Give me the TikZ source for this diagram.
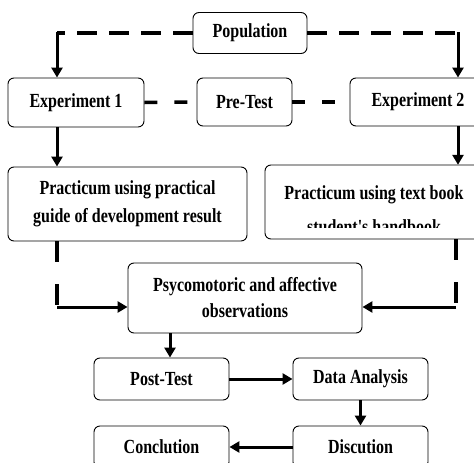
\documentclass[tikz,border=0pt]{standalone}
\usepackage{fontspec}
\setmainfont{Liberation Serif}
\newfontfamily\boxfont[FakeStretch=0.8]{Liberation Serif}
\usetikzlibrary{arrows.meta}
\begin{document}
\begin{tikzpicture}[x=1pt,y=-1pt,
  box/.style={draw, rounded corners=6pt, line width=0.9pt, inner sep=0pt, align=center,
    font=\boxfont\fontsize{20}{26}\selectfont\bfseries},
  solidarrow/.style={line width=3pt, -{Triangle[length=10pt,width=11pt]}},
  dashtop/.style={line width=4pt, dash pattern=on 20pt off 12pt},
  dashmid/.style={line width=3.5pt, dash pattern=on 13pt off 17pt},
  dashvert/.style={line width=3.5pt, dash pattern=on 21pt off 22pt}]
\useasboundingbox (0,0) rectangle (474,463);
\clip (0,0) rectangle (474,463);
% nodes
\node[box, minimum width=114pt, minimum height=41pt] (pop) at (250,33) {Population};
\node[box, minimum width=136pt, minimum height=49pt] (exp1) at (76,102.5) {Experiment 1};
\node[box, minimum width=95pt, minimum height=48pt] (pre) at (244.5,102) {Pre-Test};
\node[box, minimum width=136pt, minimum height=48pt] (exp2) at (418,102) {Experiment 2};
\node[box, minimum width=239pt, minimum height=74pt, font=\boxfont\fontsize{20}{28}\selectfont\bfseries] (prac1) at (127.5,204) {Practicum using practical\\guide of development result};
\draw[line width=0.9pt, rounded corners=6pt] (265,165) rectangle (483,239);
\node[inner sep=0pt, minimum width=218pt, minimum height=74pt] (prac2) at (374,202) {};
\begin{scope}
\clip (265,165) rectangle (490,227);
\node[box, draw=none, font=\boxfont\fontsize{20}{34}\selectfont\bfseries] (prac2text) at (374,210) {Practicum using text book\\student's handbook};
\end{scope}
\node[box, minimum width=234pt, minimum height=70pt] (psy) at (245,298) {Psycomotoric and affective\\observations};
\node[box, minimum width=135pt, minimum height=42pt] (post) at (161.5,379) {Post-Test};
\node[box, minimum width=135pt, minimum height=42pt] (data) at (360.5,379) {Data Analysis};
\node[box, minimum width=135pt, minimum height=42pt] (disc) at (360.5,447) {Discution};
\node[box, minimum width=135pt, minimum height=42pt] (conc) at (161.5,447) {Conclution};
% helper coordinates
\coordinate (c1) at (57,33);
\coordinate (c2) at (458,33);
\coordinate (c3) at (57,307);
\coordinate (c4) at (456,307);
\coordinate (px) at (170,0);
% connectors
\draw[dashtop] (pop.west) -- (c1);
\draw[solidarrow, line cap=rect] (c1) -- (c1 |- exp1.north);
\draw[dashtop] (pop.east) -- (c2);
\draw[solidarrow, line cap=rect] (c2) -- (c2 |- exp2.north);
\draw[dashmid] (exp1.east) -- (pre.west);
\draw[dashmid] (pre.east) -- (exp2.west);
\draw[solidarrow] (exp1.south -| c1) -- (prac1.north -| c1);
\draw[solidarrow] (exp2.south -| c2) -- (prac2.north -| c2);
\draw[dashvert] (prac1.south -| c3) -- (c3);
\draw[solidarrow] (c3) -- (psy.west |- c3);
\draw[dashvert] (prac2.south -| c4) -- (c4);
\draw[solidarrow] (c4) -- (psy.east |- c4);
\draw[solidarrow] (psy.south -| px) -- (post.north -| px);
\draw[solidarrow] (post.east) -- (data.west);
\draw[solidarrow] (data.south) -- (disc.north);
\draw[solidarrow] (disc.west) -- (conc.east);
\end{tikzpicture}
\end{document}
